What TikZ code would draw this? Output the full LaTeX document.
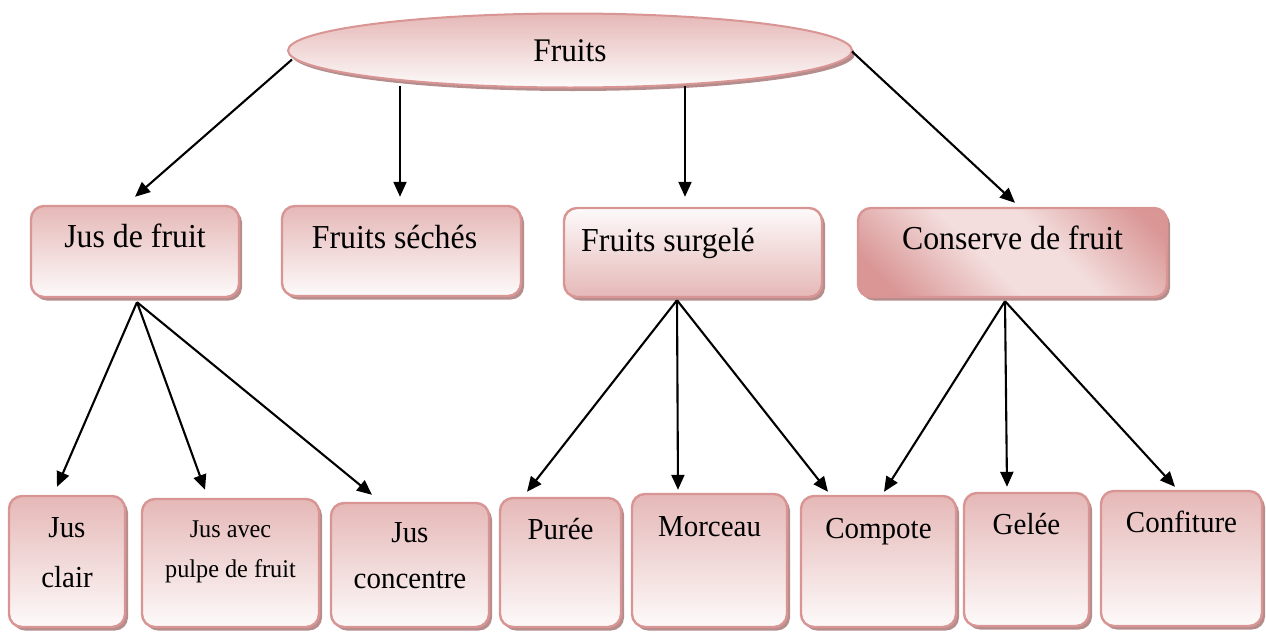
\documentclass[tikz,border=0pt]{standalone}
\usepackage{fontspec}
\setmainfont{Liberation Serif}[FakeStretch=0.95]
\usetikzlibrary{shapes.geometric,shadows,arrows.meta,calc}

\definecolor{pkTop}{RGB}{229,184,183}
\definecolor{pkBot}{RGB}{253,250,250}
\definecolor{pkEdge}{RGB}{217,149,148}
\definecolor{pkShadow}{RGB}{181,141,141}
\definecolor{pkDark}{RGB}{217,150,149}
\definecolor{pkLight}{RGB}{243,222,221}

% diagonal band shading for the preserves box
\pgfdeclarehorizontalshading{bandshade}{100bp}{color(0bp)=(pkDark); color(22bp)=(pkDark); color(44bp)=(pkLight); color(58bp)=(pkLight); color(80bp)=(pkDark); color(100bp)=(pkDark)}

\tikzset{
  frame/.style={draw=pkEdge, line width=2.4pt, inner sep=0pt,
    drop shadow={shadow xshift=3pt, shadow yshift=-3.5pt, fill=pkShadow, opacity=1}},
  box/.style={frame, rectangle, rounded corners=13pt, top color=pkTop, bottom color=pkBot},
  boxup/.style={frame, rectangle, rounded corners=13pt, top color=pkBot, bottom color=pkTop},
  boxband/.style={frame, rectangle, rounded corners=13pt, shade, shading=bandshade, shading angle=45},
  oval/.style={frame, ellipse, line width=2pt, top color=pkTop, bottom color=pkBot},
  bigtxt/.style={font=\fontsize{33.5}{40}\selectfont},
  smalltxt/.style={font=\fontsize{30.5}{50}\selectfont},
  tinytxt/.style={font=\fontsize{25.5}{40}\selectfont},
  arr/.style={line width=2.1pt, -{Triangle[length=15pt,width=13pt]}},
}

\begin{document}
\begin{tikzpicture}[x=1pt, y=-1pt]
\useasboundingbox (0,0) rectangle (1266,632);

% root
\node[oval, minimum width=564pt, minimum height=74pt, font=\fontsize{33}{40}\selectfont]
  (fr) at (570,50.5) {Fruits};

% second level
\node[box, minimum width=208pt, minimum height=91pt,
  label={[bigtxt, anchor=base, yshift=-43pt]north:Jus de fruit}] (jdf) at (135,251.5) {};
\node[box, minimum width=239pt, minimum height=90pt,
  label={[bigtxt, anchor=base, yshift=-44pt, xshift=-7pt]north:Fruits séchés}] (fs) at (401.5,251) {};
\node[boxup, minimum width=258pt, minimum height=89pt,
  label={[bigtxt, anchor=base, yshift=-45pt, xshift=-25pt]north:Fruits surgelé}] (fsg) at (693,252.5) {};
\node[boxband, minimum width=309pt, minimum height=89pt,
  label={[bigtxt, anchor=base, yshift=-43pt]north:Conserve de fruit}] (cdf) at (1012.5,252.5) {};

% third level
\node[box, minimum width=116pt, minimum height=131pt,
  label={[smalltxt, align=center, anchor=center, yshift=-58pt]north:Jus\\clair}] (jc) at (67,561.5) {};
\node[box, minimum width=177pt, minimum height=128pt,
  label={[tinytxt, align=center, anchor=center, yshift=-54pt]north:Jus avec\\pulpe de fruit}] (jap) at (230.5,563) {};
\node[box, minimum width=158pt, minimum height=124pt,
  label={[font=\fontsize{30.5}{46}\selectfont, align=center, anchor=center, yshift=-54pt]north:Jus\\concentre}] (jco) at (410,565) {};
\node[box, minimum width=121pt, minimum height=129pt,
  label={[smalltxt, anchor=base, yshift=-43pt]north:Purée}] (pu) at (560.5,562.5) {};
\node[box, minimum width=155pt, minimum height=133pt,
  label={[smalltxt, anchor=base, yshift=-44pt]north:Morceau}] (mo) at (709.5,560.5) {};
\node[box, minimum width=155pt, minimum height=131pt,
  label={[smalltxt, anchor=base, yshift=-44pt]north:Compote}] (co) at (878.5,561.5) {};
\node[box, minimum width=125pt, minimum height=133pt,
  label={[smalltxt, anchor=base, yshift=-43pt]north:Gelée}] (ge) at (1026.5,559.5) {};
\node[box, minimum width=161pt, minimum height=135pt,
  label={[smalltxt, anchor=base, yshift=-43pt]north:Confiture}] (cf) at (1181.5,558.5) {};

% root to categories
\draw[arr] ($(fr.west)+(5,9)$) -- ($(jdf.north)+(0,-8)$);
\draw[arr] ($(fs.north |- fr.south)+(-1.5,-3)$) -- ($(fs.north)+(-1.5,-8)$);
\draw[arr] ($(fsg.north |- fr.south)+(-8,-3)$) -- ($(fsg.north)+(-8,-10)$);
\draw[arr] ($(fr.east)+(-1,1)$) -- ($(cdf.north)+(2.5,-4)$);

% juices
\draw[arr] ($(jdf.south)+(2,4)$) -- ($(jc.north)+(-10,-8)$);
\draw[arr] ($(jdf.south)+(2,4)$) -- ($(jap.north)+(-25.5,-8)$);
\draw[arr] ($(jdf.south)+(2,4)$) -- ($(jco.north)+(-38,-7)$);

% frozen fruit
\draw[arr] ($(fsg.south)+(-16,2)$) -- ($(pu.north)+(-33.5,-5)$);
\draw[arr] ($(fsg.south)+(-16,2)$) -- ($(mo.north)+(-31.5,-3)$);
\draw[arr] ($(fsg.south)+(-16,2)$) -- ($(co.north)+(-50.5,-3)$);

% preserves
\draw[arr] ($(cdf.south)+(-7.5,3)$) -- ($(co.north)+(5.5,-3)$);
\draw[arr] ($(cdf.south)+(-7.5,3)$) -- ($(ge.north)+(-19.5,-5)$);
\draw[arr] ($(cdf.south)+(-7.5,3)$) -- ($(cf.north)+(-6.5,-3)$);
\end{tikzpicture}
\end{document}
